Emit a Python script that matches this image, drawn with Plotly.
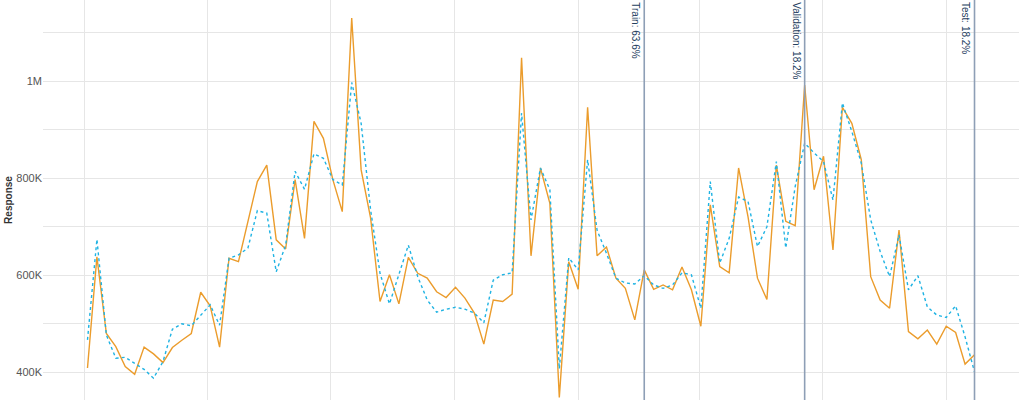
"""
Actual vs fitted response with train / validation / test split markers.
"""

import pandas as pd
import plotly.graph_objects as go

# weekly observations
start_date = "2016-01-03"
n_weeks = 95
dates = pd.date_range(start_date, periods=n_weeks, freq="7D")

actual = [
    409, 638, 480, 453, 412, 396, 452, 438, 420, 451,
    466, 480, 565, 537, 452, 635, 628, 709, 793, 827,
    673, 654, 797, 676, 917, 882, 797, 731, 1130, 817,
    718, 546, 601, 541, 637, 604, 594, 566, 554, 575,
    553, 522, 458, 549, 546, 561, 1048, 640, 821, 748,
    348, 628, 571, 946, 640, 658, 594, 573, 508, 611,
    571, 580, 570, 617, 570, 495, 745, 618, 605, 821,
    720, 594, 550, 827, 711, 702, 992, 776, 845, 652,
    946, 913, 838, 597, 549, 532, 693, 484, 469, 487,
    458, 495, 482, 417, 436,
]
fitted = [
    467, 674, 477, 429, 431, 419, 406, 388, 422, 489,
    500, 496, 518, 539, 497, 635, 642, 656, 733, 728,
    607, 662, 814, 777, 850, 841, 797, 786, 997, 913,
    735, 604, 541, 604, 662, 597, 549, 524, 530, 534,
    530, 522, 502, 590, 601, 605, 934, 714, 821, 776,
    407, 636, 611, 838, 693, 645, 594, 584, 582, 599,
    580, 573, 580, 605, 601, 532, 793, 625, 676, 761,
    752, 659, 700, 834, 656, 783, 872, 852, 834, 755,
    955, 896, 831, 714, 649, 597, 683, 570, 599, 535,
    518, 513, 537, 473, 401,
]
actual = [v * 1000 for v in actual]
fitted = [v * 1000 for v in fitted]

# split markers: index of the last week of each part
split_labels = ["Train: 63.6%", "Validation: 18.2%", "Test: 18.2%"]
split_ends = [59, 76, 94]

y_ticks = [400000, 600000, 800000, 1000000]
y_tick_labels = ["400K", "600K", "800K", "1M"]

fig = go.Figure()

fig.add_trace(go.Scatter(
    x=dates, y=actual, mode="lines", name="Actual",
    line=dict(color="#EB9C2C", width=1.4),
))
fig.add_trace(go.Scatter(
    x=dates, y=fitted, mode="lines", name="Fitted",
    line=dict(color="#1FB3E3", width=1.4, dash="dot"),
))

for label, idx in zip(split_labels, split_ends):
    fig.add_shape(
        type="line", xref="x", yref="paper",
        x0=dates[idx], x1=dates[idx], y0=0, y1=1,
        line=dict(color="#8e9fb6", width=1.6),
    )
    fig.add_annotation(
        x=dates[idx], y=1, xref="x", yref="paper",
        text=label, textangle=90, showarrow=False,
        xanchor="right", yanchor="top", xshift=-1,
        font=dict(family="Liberation Sans, Arial, sans-serif", size=10, color="#24405e"),
    )

fig.update_layout(
    width=1024,
    height=400,
    margin=dict(l=43, r=5, t=0, b=0),
    plot_bgcolor="white",
    paper_bgcolor="white",
    showlegend=False,
    font=dict(family="Liberation Sans, Arial, sans-serif"),
    xaxis=dict(
        type="date",
        range=[dates[0] - pd.Timedelta(days=33), dates[-1] + pd.Timedelta(days=33)],
        tick0="2016-01-01", dtick="M3",
        showgrid=True, gridcolor="#e6e6e6", gridwidth=1.2,
        showticklabels=False, zeroline=False, showline=False,
    ),
    yaxis=dict(
        range=[343000, 1167000],
        tickvals=y_ticks, ticktext=y_tick_labels,
        tickfont=dict(size=11, color="#555555"),
        showgrid=True, gridcolor="#e6e6e6", gridwidth=1,
        minor=dict(dtick=100000, tick0=0, showgrid=True, gridcolor="#e6e6e6", gridwidth=1),
        zeroline=False, showline=False,
        title=dict(text="<b>Response</b>", font=dict(size=10, color="#333333"), standoff=1),
    ),
)

# the page body has a default margin; drop it so the chart sits in the corner
fig.write_html(
    "out.html",
    config={"displayModeBar": False},
    post_script="document.body.style.margin = '0';",
)
